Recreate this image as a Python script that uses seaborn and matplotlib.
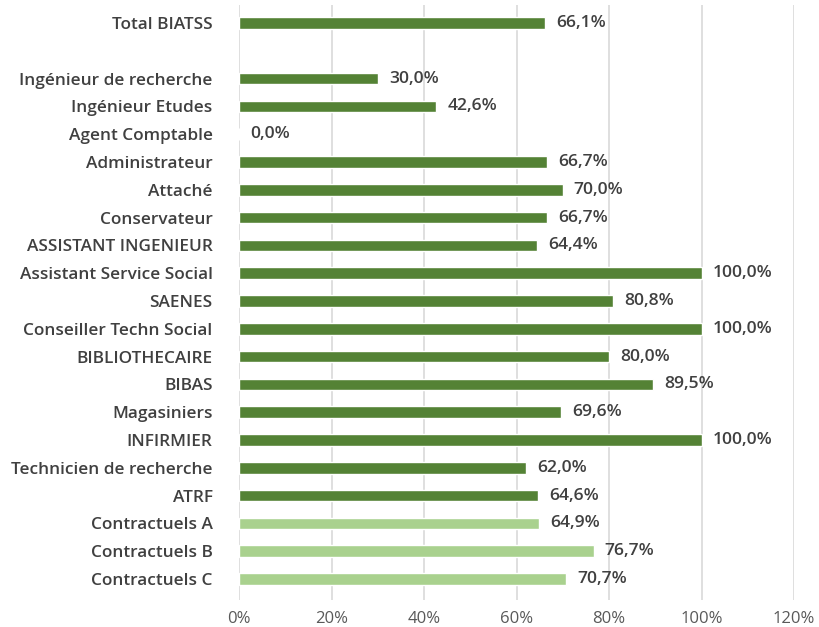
import numpy as np
import pandas as pd
import matplotlib
matplotlib.use("Agg")
import matplotlib.pyplot as plt
import seaborn as sns

categories = ["Total BIATSS", " ", "Ingénieur de recherche", "Ingénieur Etudes", "Agent Comptable",
              "Administrateur", "Attaché", "Conservateur", "ASSISTANT INGENIEUR",
              "Assistant Service Social", "SAENES", "Conseiller Techn Social", "BIBLIOTHECAIRE",
              "BIBAS", "Magasiniers", "INFIRMIER", "Technicien de recherche", "ATRF",
              "Contractuels A", "Contractuels B", "Contractuels C"]
values = [66.1, np.nan, 30.0, 42.6, 0.0, 66.7, 70.0, 66.7, 64.4, 100.0, 80.8, 100.0, 80.0,
          89.5, 69.6, 100.0, 62.0, 64.6, 64.9, 76.7, 70.7]
groups = ["titulaire"] * 18 + ["contractuel"] * 3
tick_values = [0, 20, 40, 60, 80, 100, 120]
tick_labels = ["0%", "20%", "40%", "60%", "80%", "100%", "120%"]

df = pd.DataFrame({"cat": categories, "val": values, "grp": groups})

sns.set_theme(style="white")
plt.rcParams["font.family"] = ["Open Sans", "DejaVu Sans"]

fig = plt.figure(figsize=(8.19, 6.27), dpi=100)
ax = fig.add_axes([239 / 819, 1 - 600 / 627, (794 - 239) / 819, 595 / 627])

sns.barplot(data=df, y="cat", x="val", hue="grp", order=categories,
            palette={"titulaire": "#548235", "contractuel": "#A9D18E"},
            dodge=False, orient="h", width=0.42, saturation=1, legend=False, ax=ax, zorder=3)

ax.set_xlim(0, 120)
ax.set_ylim(20.755, -0.647)
ax.set_xticks(tick_values)
ax.set_xticklabels(tick_labels, fontsize=12, color="#595959")
ax.set_xlabel("")
ax.set_ylabel("")
ax.tick_params(axis="y", labelsize=12.4, labelcolor="#404040", length=0, pad=19)
ax.tick_params(axis="x", length=0, pad=8)
for lbl in ax.get_yticklabels():
    lbl.set_fontweight("semibold")
for x in tick_values:
    ax.axvline(x, color="#d9d9d9", lw=1.2, zorder=0)
for s in ax.spines.values():
    s.set_visible(False)

for i, v in enumerate(values):
    if np.isnan(v):
        continue
    ax.annotate(f"{v:.1f}%".replace(".", ","), xy=(v, i), xytext=(8, 0),
                textcoords="offset points", va="center", ha="left",
                fontsize=12.6, color="#404040", fontweight="semibold")

fig.savefig("out.png", dpi=100)
